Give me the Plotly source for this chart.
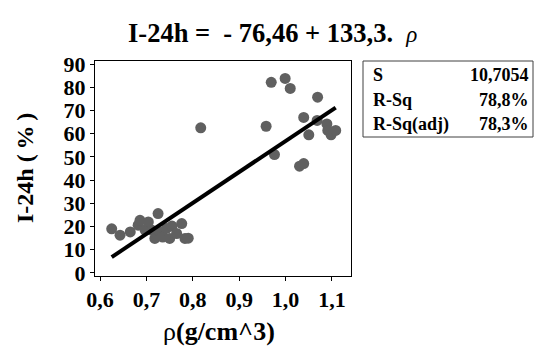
import plotly.graph_objects as go

# Data
density = [0.625, 0.643, 0.665, 0.682, 0.686, 0.697, 0.704, 0.711, 0.718, 0.725,
           0.729, 0.735, 0.743, 0.750, 0.755, 0.765, 0.776, 0.783, 0.790,
           0.817, 0.958, 0.969, 0.976, 0.999, 1.010, 1.030, 1.039, 1.039,
           1.050, 1.068, 1.069, 1.089, 1.091, 1.098, 1.108]
i24h = [19.0, 16.3, 17.7, 20.6, 22.7, 18.5, 22.0, 18.5, 14.9, 25.6,
        17.7, 15.5, 19.2, 14.9, 20.2, 17.0, 21.3, 14.9, 15.0,
        62.5, 63.2, 82.1, 51.0, 83.8, 79.5, 46.0, 47.1, 67.0,
        59.5, 65.7, 75.7, 64.2, 61.4, 59.5, 61.4]

intercept = -76.46
slope = 133.3

stat_labels = ["S", "R-Sq", "R-Sq(adj)"]
stat_values = ["10,7054", "78,8%", "78,3%"]

x_ticks = [0.6, 0.7, 0.8, 0.9, 1.0, 1.1]
x_tick_text = ["0,6", "0,7", "0,8", "0,9", "1,0", "1,1"]
y_ticks = [0, 10, 20, 30, 40, 50, 60, 70, 80, 90]

FONT = "Liberation Serif"

fig = go.Figure()
fig.add_trace(go.Scatter(
    x=density, y=i24h, mode="markers",
    marker=dict(size=11, color="#606060", line=dict(width=0)),
    showlegend=False, hoverinfo="skip"))

x0, x1 = min(density), max(density)
fig.add_trace(go.Scatter(
    x=[x0, x1], y=[intercept + slope * x0, intercept + slope * x1],
    mode="lines", line=dict(color="black", width=4),
    showlegend=False, hoverinfo="skip"))

tickfont = dict(size=22, family=FONT, weight="bold", color="black")
fig.update_layout(
    width=536, height=349,
    margin=dict(l=95, r=185, t=61, b=73),
    paper_bgcolor="white", plot_bgcolor="white",
    font=dict(family=FONT, color="black"),
    xaxis=dict(range=[0.589, 1.141], tickvals=x_ticks, ticktext=x_tick_text,
               showgrid=False, zeroline=False, showline=True, mirror=True,
               linecolor="black", linewidth=1, ticks="outside", ticklen=4,
               tickcolor="black", tickfont=tickfont),
    yaxis=dict(range=[-1.3, 91.3], tickvals=y_ticks,
               showgrid=False, zeroline=False, showline=True, mirror=True,
               linecolor="black", linewidth=1, ticks="outside", ticklen=4,
               tickcolor="black", tickfont=tickfont),
)

annotations = [
    dict(text="<b>I-24h =\u00a0\u00a0- 76,46 + 133,3.</b>\u00a0\u00a0<i><span style='font-size:23px'>ρ</span></i>",
         xref="paper", yref="paper", x=(272 - 95) / 256, y=(276 - 33) / 215,
         xanchor="center", yanchor="middle", showarrow=False,
         font=dict(size=26.5, family=FONT)),
    dict(text="<b>I-24h (\u2009%\u2009)</b>", textangle=-90,
         xref="paper", yref="paper", x=(25 - 95) / 256, y=(276 - 168) / 215,
         xanchor="center", yanchor="middle", showarrow=False,
         font=dict(size=24, family=FONT)),
    dict(text="ρ<b>(g/cm^3)</b>",
         xref="paper", yref="paper", x=(219 - 95) / 256, y=(276 - 331) / 215,
         xanchor="center", yanchor="middle", showarrow=False,
         font=dict(size=26, family=FONT)),
]
row_px = [75, 100, 124]
for lab, val, py in zip(stat_labels, stat_values, row_px):
    yp = (276 - py) / 215
    annotations.append(dict(text=f"<b>{lab}</b>", xref="paper", yref="paper",
                            x=(371 - 95) / 256, y=yp, xanchor="left", yanchor="middle",
                            showarrow=False, font=dict(size=18, family=FONT)))
    annotations.append(dict(text=f"<b>{val}</b>", xref="paper", yref="paper",
                            x=(531 - 95) / 256, y=yp, xanchor="right", yanchor="middle",
                            showarrow=False, font=dict(size=18, family=FONT)))
fig.update_layout(annotations=annotations)

fig.add_shape(type="rect", xref="paper", yref="paper",
              x0=(363 - 95) / 256, x1=(533 - 95) / 256,
              y0=(276 - 137) / 215, y1=(276 - 61) / 215,
              line=dict(color="#404040", width=1), fillcolor="rgba(0,0,0,0)")

fig.write_html("out.html", config={"displayModeBar": False},
               post_script="document.body.style.margin='0';document.body.style.overflow='hidden';")
